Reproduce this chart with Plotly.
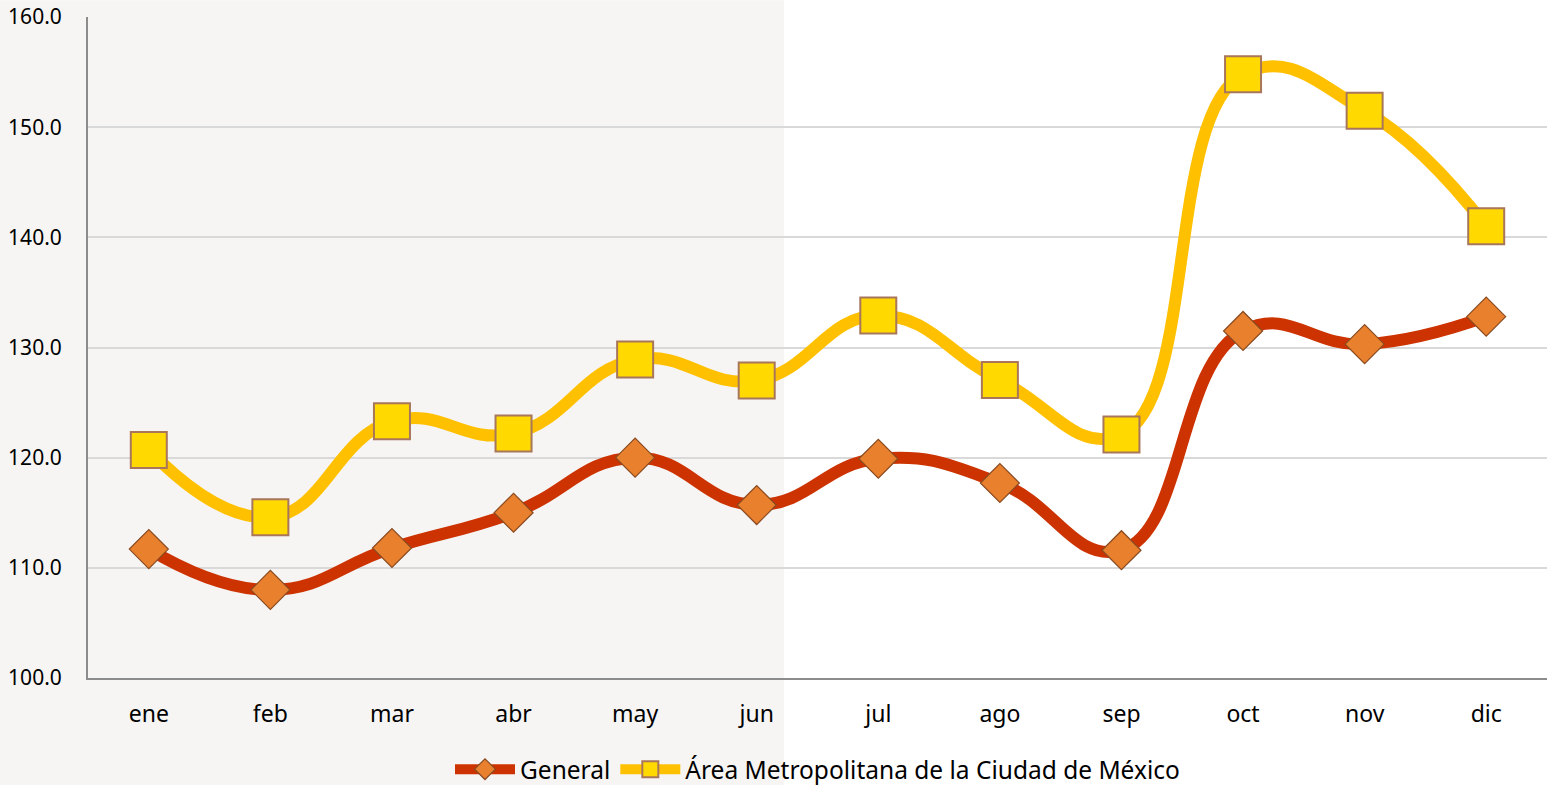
import plotly.graph_objects as go

meses = ["ene", "feb", "mar", "abr", "may", "jun", "jul", "ago", "sep", "oct", "nov", "dic"]
general = [111.7, 108.0, 111.8, 115.0, 120.0, 115.7, 119.9, 117.7, 111.6, 131.5, 130.3, 132.8]
amcm = [120.7, 114.6, 123.3, 122.2, 128.9, 127.0, 132.9, 127.05, 122.1, 154.8, 151.5, 141.0]
y_ticks = [100, 110, 120, 130, 140, 150, 160]

FONT = "Noto Sans"

fig = go.Figure()
fig.add_trace(go.Scatter(
    x=meses, y=general, name="General", mode="lines+markers",
    line=dict(color="#CC3300", width=12, shape="spline", smoothing=1.3),
    marker=dict(symbol="diamond", size=30, color="#E8802E",
                line=dict(color="#8A4A20", width=1.2)),
))
fig.add_trace(go.Scatter(
    x=meses, y=amcm, name="Área Metropolitana de la Ciudad de México", mode="lines+markers",
    line=dict(color="#FFC000", width=12, shape="spline", smoothing=1.3),
    marker=dict(symbol="square", size=36, color="#FFD900",
                line=dict(color="#A8765A", width=2)),
))

fig.add_shape(type="rect", xref="paper", yref="paper",
              x0=-88 / 1459, x1=(784 - 88) / 1459, y0=-108 / 667, y1=1 + 17 / 667,
              fillcolor="#F6F5F3", line=dict(width=0), layer="below")

fig.update_layout(
    width=1547, height=792, autosize=False,
    margin=dict(l=88, r=0, t=17, b=108),
    paper_bgcolor="white", plot_bgcolor="rgba(0,0,0,0)",
    font=dict(family=FONT, color="#000000"),
    showlegend=True,
    legend=dict(orientation="h", x=0.5, xanchor="center", y=-0.138, yanchor="middle",
                font=dict(size=24.5, family=FONT), bgcolor="rgba(0,0,0,0)",
                itemwidth=60, tracegroupgap=0),
)
fig.update_xaxes(
    type="category", range=[-0.5, 11.5], showgrid=False,
    showline=True, linecolor="#8C8C8C", linewidth=2,
    ticks="", tickfont=dict(size=23, family=FONT), ticklabelstandoff=14,
)
fig.update_yaxes(
    range=[100, 160], tickvals=y_ticks, ticktext=[f"{v:.1f}" for v in y_ticks],
    showgrid=True, gridcolor="#D9D9D9", gridwidth=1.5,
    showline=True, linecolor="#8C8C8C", linewidth=2, zeroline=False,
    ticks="", tickfont=dict(size=21, family=FONT), ticklabelstandoff=20,
)

fig.write_html("out.html",
               config={"displayModeBar": False, "responsive": False},
               post_script="document.body.style.margin='0px';document.body.style.overflow='hidden';")
